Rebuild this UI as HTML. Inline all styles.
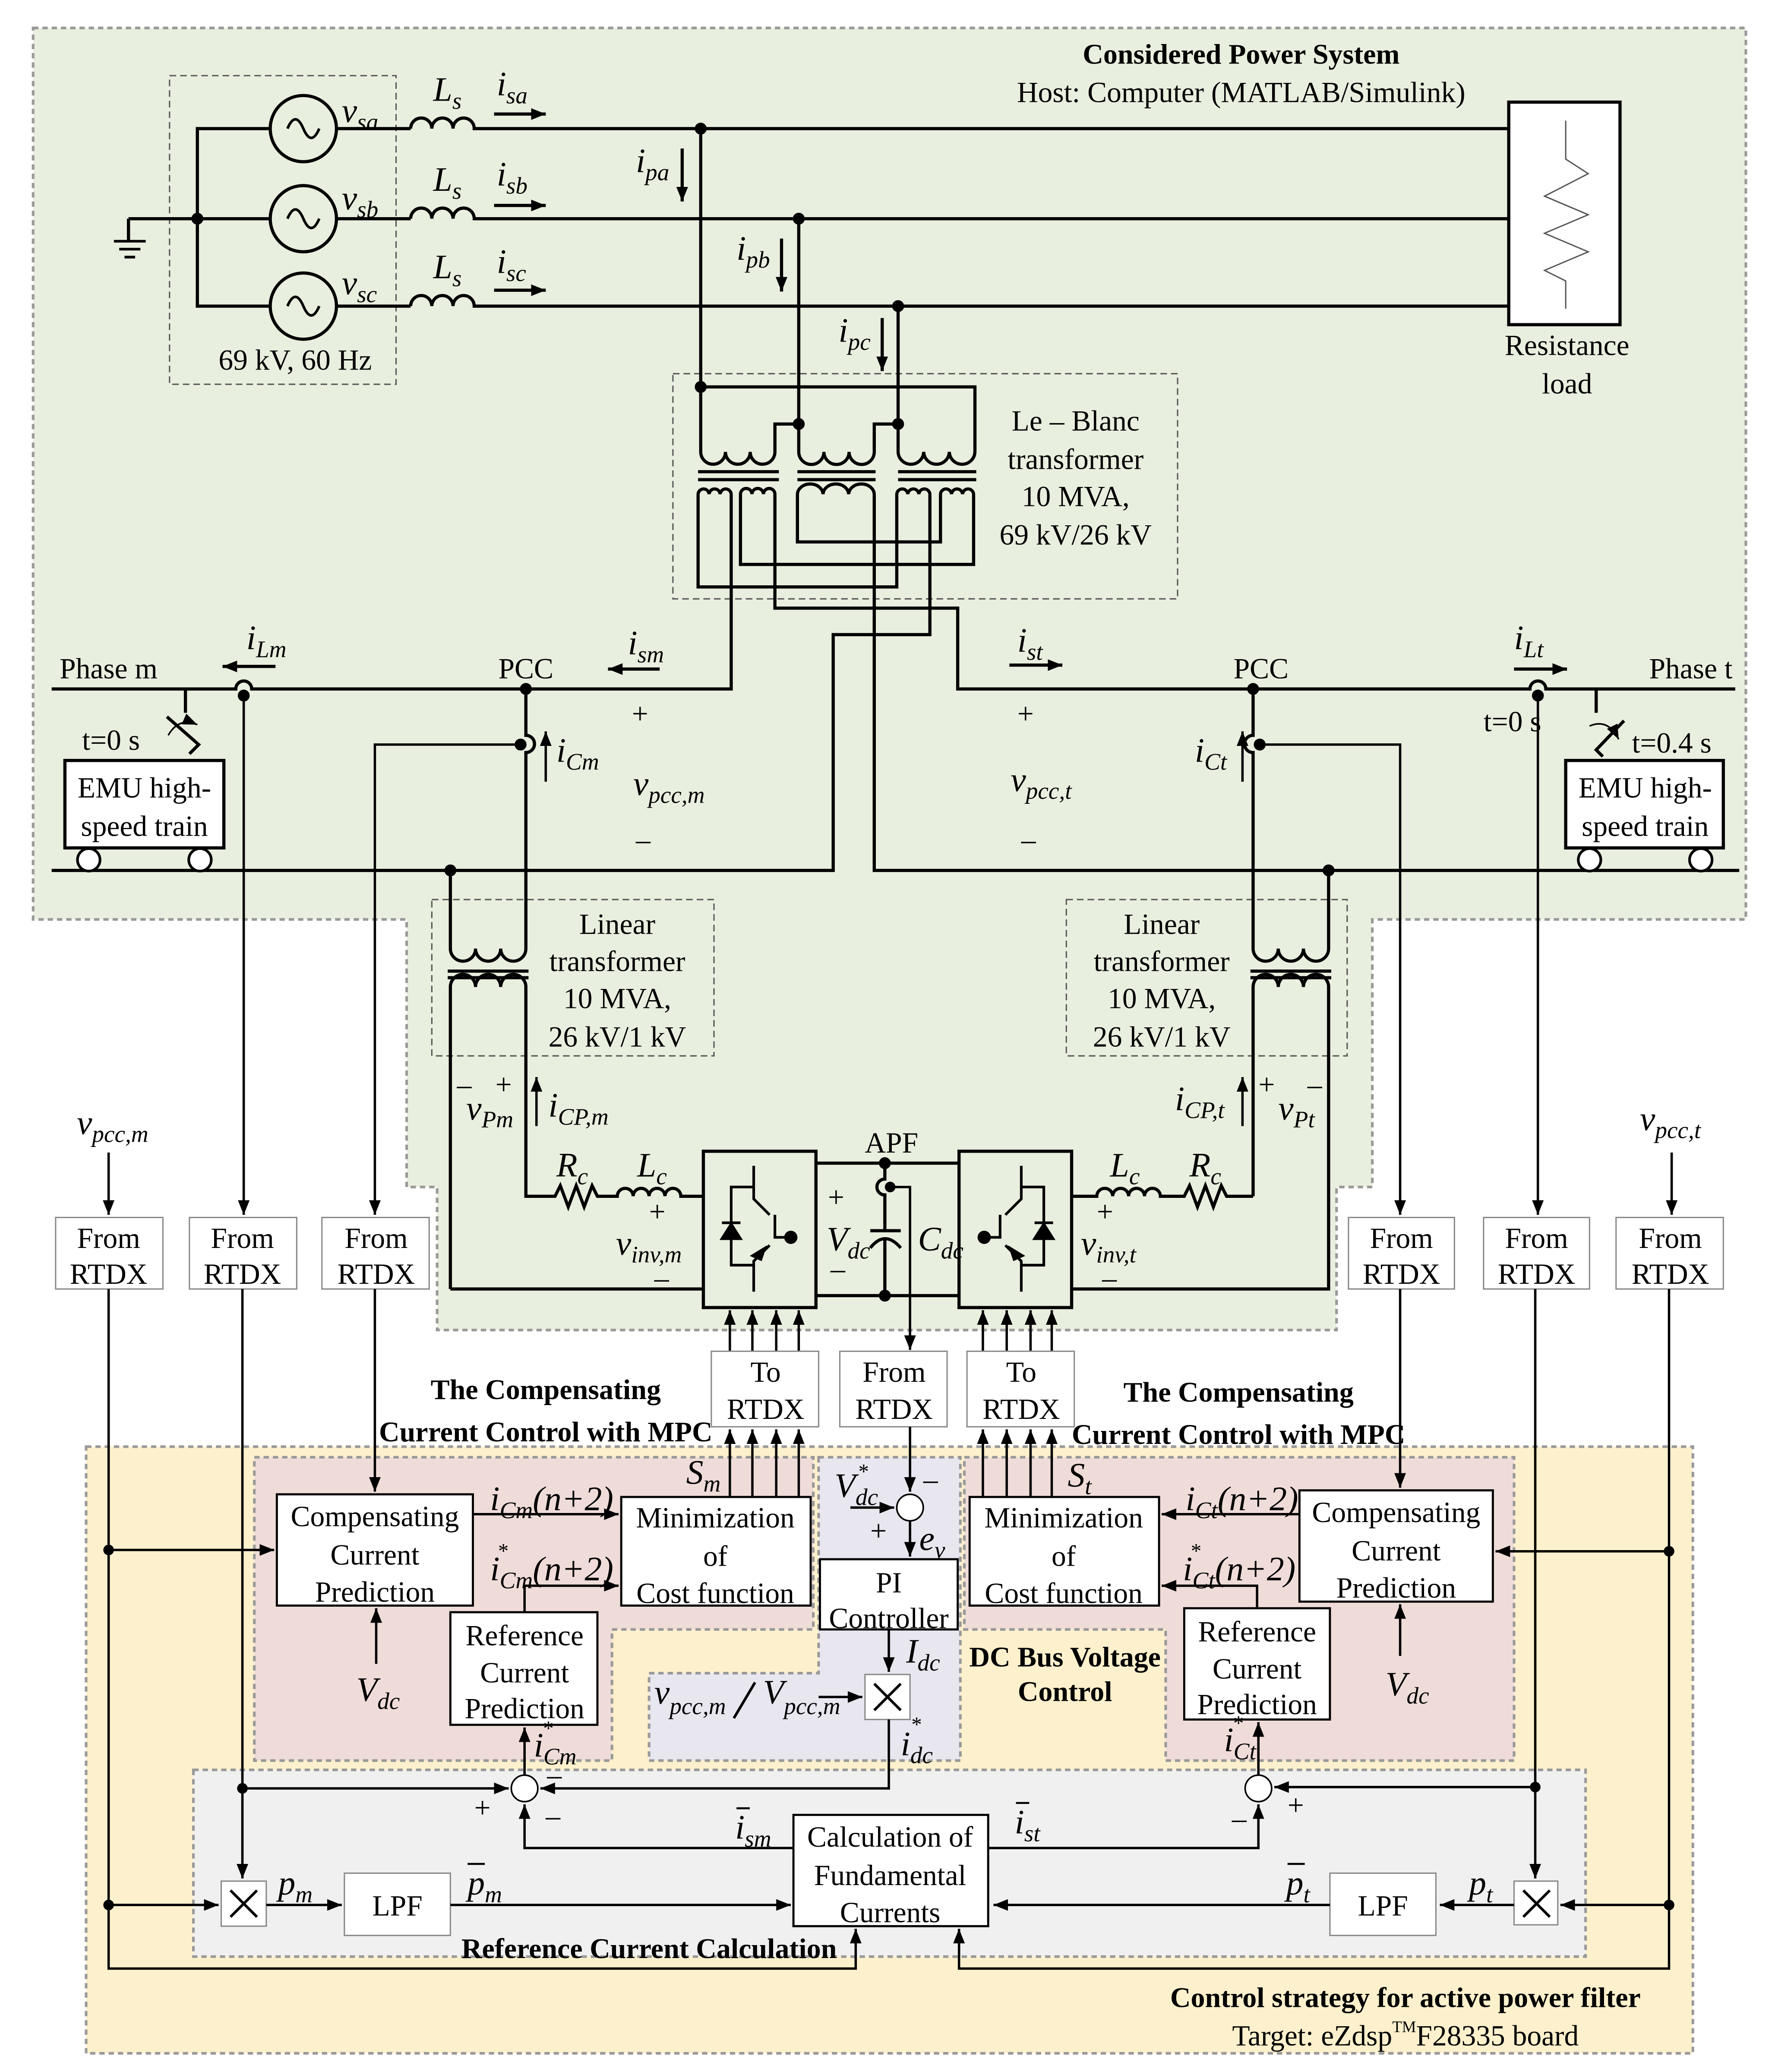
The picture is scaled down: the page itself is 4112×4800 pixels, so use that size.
<!DOCTYPE html>
<html><head><meta charset="utf-8"><style>
html,body{margin:0;padding:0;background:#fff}
svg{display:block}
text{font-family:"Liberation Serif",serif;fill:#000}
.m{font-style:italic;font-size:26px}
.s{font-size:18px}
.t{font-size:22px}
.b{font-size:21.5px;font-weight:bold}
.w{fill:none;stroke:#000;stroke-width:2.4}
.n{fill:none;stroke:#000;stroke-width:1.8}
.bx{fill:#fff;stroke:#000;stroke-width:1.6}
.gb{fill:#fff;stroke:#888;stroke-width:1}
</style></head><body>
<svg width="4112" height="4800" viewBox="0 0 1340 1564" xmlns="http://www.w3.org/2000/svg">
<defs><marker id="a" viewBox="0 0 10 10" refX="10" refY="5" markerWidth="11" markerHeight="11" markerUnits="userSpaceOnUse" orient="auto"><path d="M0,1 L10,5 L0,9z"/></marker></defs>
<rect width="1340" height="1564" fill="#fff"/>
<path d="M25,21 H1318 V694 H1036 V896 H1009 V1004 H330 V896 H307 V694 H25 Z" fill="#e9efdf" stroke="#999" stroke-width="2" stroke-dasharray="4,3"/>
<rect x="65" y="1092" width="1213" height="458" fill="#fdf0cc" stroke="#999" stroke-width="2" stroke-dasharray="4,3"/>
<path d="M192,1100 H614 V1230 H462 V1329 H192 Z" fill="#efdcd9" stroke="#999" stroke-width="2" stroke-dasharray="4,3"/>
<path d="M728,1100 H1143 V1329 H880 V1230 H728 Z" fill="#efdcd9" stroke="#999" stroke-width="2" stroke-dasharray="4,3"/>
<path d="M618,1100 H725 V1329 H490 V1263 H618 Z" fill="#e8e6ef" stroke="#999" stroke-width="2" stroke-dasharray="4,3"/>
<rect x="146" y="1336" width="1051" height="141" fill="#f0f0f0" stroke="#999" stroke-width="2" stroke-dasharray="4,3"/>
<g fill="none" stroke="#555" stroke-width="1" stroke-dasharray="5,3">
<rect x="128" y="57" width="171" height="233"/>
<rect x="508" y="282" width="381" height="170"/>
<rect x="326" y="679" width="213" height="118"/>
<rect x="805" y="679" width="212" height="118"/>
</g>
<text x="937" y="48" class="b" font-size="24" text-anchor="middle">Considered Power System</text>
<text x="937" y="77" class="t" font-size="24" text-anchor="middle">Host: Computer (MATLAB/Simulink)</text>
<g class="w">
<path d="M204,97 H149 V231 H204 M204,165 H97 M97,165 V182"/>
<circle cx="229" cy="97" r="25"/><circle cx="229" cy="165" r="25"/><circle cx="229" cy="231" r="25"/>
<path d="M254,97 H310 M254,165 H310 M254,231 H310"/>
<path d="M310,97 a8,8 0 0 1 16,0 a8,8 0 0 1 16,0 a8,8 0 0 1 16,0 H1139"/>
<path d="M310,165 a8,8 0 0 1 16,0 a8,8 0 0 1 16,0 a8,8 0 0 1 16,0 H1139"/>
<path d="M310,231 a8,8 0 0 1 16,0 a8,8 0 0 1 16,0 a8,8 0 0 1 16,0 H1139"/>
</g>
<g fill="none" stroke="#000" stroke-width="2">
<path d="M217,97 q6,-14 12,0 t12,0"/><path d="M217,165 q6,-14 12,0 t12,0"/><path d="M217,231 q6,-14 12,0 t12,0"/>
<path d="M86,182 H110 M90,188 H106 M94,194 H102"/>
</g>
<circle cx="149" cy="165" r="4.5"/>
<text x="258" y="92" class="m">v<tspan class="s" dy="6">sa</tspan></text>
<text x="258" y="158" class="m">v<tspan class="s" dy="6">sb</tspan></text>
<text x="258" y="222" class="m">v<tspan class="s" dy="6">sc</tspan></text>
<text x="327" y="76" class="m">L<tspan class="s" dy="6">s</tspan></text>
<text x="327" y="144" class="m">L<tspan class="s" dy="6">s</tspan></text>
<text x="327" y="210" class="m">L<tspan class="s" dy="6">s</tspan></text>
<text x="375" y="72" class="m">i<tspan class="s" dy="6">sa</tspan></text>
<text x="375" y="140" class="m">i<tspan class="s" dy="6">sb</tspan></text>
<text x="375" y="206" class="m">i<tspan class="s" dy="6">sc</tspan></text>
<g class="w" marker-end="url(#a)" stroke-width="2"><path d="M373,86 H412"/><path d="M373,155 H412"/><path d="M373,219 H412"/></g>
<text x="165" y="279" class="t">69 kV, 60 Hz</text>
<rect x="1139" y="77" width="84" height="168" fill="#fff" stroke="#000" stroke-width="2.4"/>
<path d="M1182,91 V120 L1199,131 L1166,148 L1199,162 L1166,176 L1199,190 L1166,204 L1182,212 V233" fill="none" stroke="#555" stroke-width="1"/>
<text x="1183" y="268" class="t" text-anchor="middle">Resistance</text>
<text x="1183" y="297" class="t" text-anchor="middle">load</text>
<g class="w">
<path d="M529,97 V292 H736 V320 M736,292 V341"/>
<path d="M603,165 V341 M678,231 V341"/>
<path d="M529,292 V341 a9.33,9.33 0 0 0 18.67,0 a9.33,9.33 0 0 0 18.67,0 a9.33,9.33 0 0 0 18.67,0 V320 H603"/>
<path d="M603,341 a9.5,9.5 0 0 0 19,0 a9.5,9.5 0 0 0 19,0 a9.5,9.5 0 0 0 19,0 V320 H678"/>
<path d="M678,341 a9.67,9.67 0 0 0 19.33,0 a9.67,9.67 0 0 0 19.33,0 a9.67,9.67 0 0 0 19.33,0"/>
</g>
<g stroke="#000" stroke-width="2.4"><path d="M527,356 H588 M527,362 H588 M602,356 H661 M602,362 H661 M678,356 H737 M678,362 H737"/></g>
<g class="w">
<path d="M527,373 a4.17,4.17 0 0 1 8.33,0 a4.17,4.17 0 0 1 8.33,0 a4.17,4.17 0 0 1 8.33,0"/>
<path d="M559,373 a4.33,4.33 0 0 1 8.67,0 a4.33,4.33 0 0 1 8.67,0 a4.33,4.33 0 0 1 8.67,0"/>
<path d="M602,373 a9.67,8 0 0 1 19.33,0 a9.67,8 0 0 1 19.33,0 a9.67,8 0 0 1 19.33,0"/>
<path d="M677,373 a4.17,4.17 0 0 1 8.33,0 a4.17,4.17 0 0 1 8.33,0 a4.17,4.17 0 0 1 8.33,0"/>
<path d="M710,373 a4.17,4.17 0 0 1 8.33,0 a4.17,4.17 0 0 1 8.33,0 a4.17,4.17 0 0 1 8.33,0"/>
<path d="M527,373 V443 H677 V373"/>
<path d="M552,373 V520 H190 a6,6 0 0 0 -12,0 H39"/>
<path d="M559,373 V426 H735 V373"/>
<path d="M585,373 V459 H723 V520 H1155 a6,6 0 0 1 12,0 H1310"/>
<path d="M602,373 V409 H710 V373"/>
<path d="M660,373 V657 H1313"/>
<path d="M702,373 V479 H629 V657 H39"/>
</g>
<g><circle cx="529" cy="97" r="4.5"/><circle cx="603" cy="165" r="4.5"/><circle cx="678" cy="231" r="4.5"/><circle cx="529" cy="292" r="4.5"/><circle cx="603" cy="320" r="4.5"/><circle cx="678" cy="320" r="4.5"/></g>
<g class="w" stroke-width="2" marker-end="url(#a)"><path d="M515,112 V152"/><path d="M590,180 V220"/><path d="M666,240 V280"/></g>
<text x="480" y="130" class="m">i<tspan class="s" dy="6">pa</tspan></text>
<text x="556" y="196" class="m">i<tspan class="s" dy="6">pb</tspan></text>
<text x="633" y="258" class="m">i<tspan class="s" dy="6">pc</tspan></text>
<g class="t" text-anchor="middle"><text x="812" y="325">Le – Blanc</text><text x="812" y="354">transformer</text><text x="812" y="382">10 MVA,</text><text x="812" y="411">69 kV/26 kV</text></g>
<text x="45" y="512" class="t">Phase m</text>
<text x="1245" y="512" class="t">Phase t</text>
<text x="397" y="512" class="t" text-anchor="middle">PCC</text>
<text x="952" y="512" class="t" text-anchor="middle">PCC</text>
<g class="w" stroke-width="2" marker-end="url(#a)"><path d="M208,503 H168"/><path d="M498,505 H459"/><path d="M762,502 H802"/><path d="M1143,505 H1183"/></g>
<text x="186" y="490" class="m">i<tspan class="s" dy="6">Lm</tspan></text>
<text x="474" y="494" class="m">i<tspan class="s" dy="6">sm</tspan></text>
<text x="768" y="492" class="m">i<tspan class="s" dy="6">st</tspan></text>
<text x="1143" y="490" class="m">i<tspan class="s" dy="6">Lt</tspan></text>
<g class="t"><text x="477" y="546">+</text><text x="480" y="641">–</text><text x="768" y="546">+</text><text x="771" y="641">–</text></g>
<text x="478" y="600" class="m">v<tspan class="s" dy="6">pcc,m</tspan></text>
<text x="763" y="597" class="m">v<tspan class="s" dy="6">pcc,t</tspan></text>
<g class="w" stroke-width="2"><path d="M140,520 V538 M126,541 L150,562 L143,569"/><path d="M1205,520 V538 M1226,544 L1205,566 L1210,571"/></g>
<path d="M127,555 q8,-14 22,-8" fill="none" stroke="#000" stroke-width="1.2" marker-end="url(#a)"/>
<path d="M1200,548 q14,-6 22,10" fill="none" stroke="#000" stroke-width="1.2" marker-end="url(#a)"/>
<text x="62" y="566" class="t">t=0 s</text>
<text x="1120" y="552" class="t">t=0 s</text>
<text x="1232" y="568" class="t">t=0.4 s</text>
<rect x="49" y="574" width="120" height="66" fill="#fff" stroke="#000" stroke-width="2.4"/>
<rect x="1182" y="574" width="119" height="66" fill="#fff" stroke="#000" stroke-width="2.4"/>
<g class="t" text-anchor="middle"><text x="109" y="602">EMU high-</text><text x="109" y="631">speed train</text><text x="1242" y="602">EMU high-</text><text x="1242" y="631">speed train</text></g>
<g fill="#fff" stroke="#000" stroke-width="2"><circle cx="67" cy="649" r="8.5"/><circle cx="151" cy="649" r="8.5"/><circle cx="1200" cy="649" r="8.5"/><circle cx="1284" cy="649" r="8.5"/></g>
<g class="w">
<path d="M397,520 V555 a6.5,6.5 0 0 1 0,13 V716 a9.5,9.5 0 0 1 -19,0 a9.5,9.5 0 0 1 -19,0 a9.5,9.5 0 0 1 -19,0 V657"/>
<path d="M338,733 H399 M338,738 H399"/>
<path d="M340,973 V745 a9.5,9.5 0 0 1 19,0 a9.5,9.5 0 0 1 19,0 a9.5,9.5 0 0 1 19,0 V903 H419 l4,-8 l6,16 l6,-16 l6,16 l6,-16 l4,8 H466 a6,6 0 0 1 12,0 a6,6 0 0 1 12,0 a6,6 0 0 1 12,0 a6,6 0 0 1 12,0 H531"/>
<path d="M340,973 H531"/>
<path d="M946,520 V555 a6.5,6.5 0 0 0 0,13 V716 a9.5,9.5 0 0 0 19,0 a9.5,9.5 0 0 0 19,0 a9.5,9.5 0 0 0 19,0 V657"/>
<path d="M944,733 H1005 M944,738 H1005"/>
<path d="M946,903 V745 a9.5,9.5 0 0 1 19,0 a9.5,9.5 0 0 1 19,0 a9.5,9.5 0 0 1 19,0 V973 H809"/>
<path d="M946,903 H926 l-4,-8 l-6,16 l-6,-16 l-6,16 l-6,-16 l-4,8 H876 a6,6 0 0 0 -12,0 a6,6 0 0 0 -12,0 a6,6 0 0 0 -12,0 a6,6 0 0 0 -12,0 H809"/>
</g>
<g><circle cx="184" cy="525" r="4.5"/><circle cx="397" cy="520" r="4.5"/><circle cx="393" cy="562" r="4.5"/><circle cx="340" cy="657" r="4.5"/><circle cx="946" cy="520" r="4.5"/><circle cx="951" cy="562" r="4.5"/><circle cx="1003" cy="657" r="4.5"/><circle cx="1161" cy="525" r="4.5"/></g>
<g class="n" marker-end="url(#a)">
<path d="M184,525 V917"/><path d="M393,562 H283 V917"/><path d="M951,562 H1057 V917"/><path d="M1161,525 V917"/>
<path d="M82,870 V917"/><path d="M1262,870 V917"/>
</g>
<g class="n" stroke-width="2" marker-end="url(#a)"><path d="M412,590 V552"/><path d="M938,590 V552"/><path d="M405,850 V813"/><path d="M938,850 V813"/></g>
<text x="420" y="575" class="m">i<tspan class="s" dy="6">Cm</tspan></text>
<text x="902" y="575" class="m">i<tspan class="s" dy="6">Ct</tspan></text>
<g class="t" text-anchor="middle"><text x="466" y="705">Linear</text><text x="466" y="733">transformer</text><text x="466" y="761">10 MVA,</text><text x="466" y="790">26 kV/1 kV</text>
<text x="877" y="705">Linear</text><text x="877" y="733">transformer</text><text x="877" y="761">10 MVA,</text><text x="877" y="790">26 kV/1 kV</text></g>
<text x="345" y="826" class="t">–</text><text x="374" y="826" class="t">+</text>
<text x="352" y="845" class="m">v<tspan class="s" dy="6">Pm</tspan></text>
<text x="414" y="843" class="m">i<tspan class="s" dy="6">CP,m</tspan></text>
<text x="887" y="838" class="m">i<tspan class="s" dy="6">CP,t</tspan></text>
<text x="950" y="826" class="t">+</text><text x="987" y="826" class="t">–</text>
<text x="965" y="845" class="m">v<tspan class="s" dy="6">Pt</tspan></text>
<text x="420" y="888" class="m">R<tspan class="s" dy="6">c</tspan></text>
<text x="481" y="888" class="m">L<tspan class="s" dy="6">c</tspan></text>
<text x="838" y="888" class="m">L<tspan class="s" dy="6">c</tspan></text>
<text x="898" y="888" class="m">R<tspan class="s" dy="6">c</tspan></text>
<text x="490" y="922" class="t">+</text><text x="494" y="972" class="t">–</text>
<text x="465" y="947" class="m">v<tspan class="s" dy="6">inv,m</tspan></text>
<text x="828" y="922" class="t">+</text><text x="832" y="972" class="t">–</text>
<text x="816" y="947" class="m">v<tspan class="s" dy="6">inv,t</tspan></text>
<g id="inv">
<rect x="531" y="869" width="85" height="118" fill="none" stroke="#000" stroke-width="2.4"/>
<g fill="none" stroke="#000" stroke-width="2"><path d="M569,880 V905 L581,917 M581,940 L569,952 V975 M585,917 V934 H597 M569,896 H552 V955 H569"/></g>
<path d="M579,940 L566,948 L575,952z"/>
<path d="M545,935 H559 L552,924z M545,923 H559" stroke="#000" stroke-width="2"/>
<circle cx="597" cy="934" r="5"/>
</g>
<use href="#inv" transform="translate(1340,0) scale(-1,1)"/>
<g class="w"><path d="M616,878 H724 M616,978 H724 M668,878 V890 a6,6 0 0 0 0,12 V929 M657,929 H680 M668,935 V978"/><path d="M657,942 Q668,928 680,942"/></g>
<circle cx="668" cy="878" r="4.5"/><circle cx="668" cy="978" r="4.5"/><circle cx="672" cy="896" r="4"/>
<path d="M672,896 H687 V1019" class="n" marker-end="url(#a)"/>
<text x="673" y="870" class="t" text-anchor="middle">APF</text>
<text x="625" y="911" class="t">+</text><text x="627" y="965" class="t">–</text>
<text x="624" y="944" class="m">V<tspan class="s" dy="6">dc</tspan></text>
<text x="693" y="944" class="m">C<tspan class="s" dy="6">dc</tspan></text>
<g class="n" marker-end="url(#a)">
<path d="M551,1020 V989"/><path d="M568,1020 V989"/><path d="M586,1020 V989"/><path d="M603,1020 V989"/>
<path d="M742,1020 V989"/><path d="M760,1020 V989"/><path d="M778,1020 V989"/><path d="M794,1020 V989"/>
<path d="M551,1130 V1079"/><path d="M568,1130 V1079"/><path d="M586,1130 V1079"/><path d="M603,1130 V1079"/>
<path d="M742,1130 V1079"/><path d="M760,1130 V1079"/><path d="M778,1130 V1079"/><path d="M794,1130 V1079"/>
</g>
<g class="gb">
<rect x="42" y="919" width="81" height="54"/><rect x="143" y="919" width="81" height="54"/><rect x="243" y="919" width="81" height="54"/>
<rect x="1018" y="919" width="80" height="54"/><rect x="1120" y="919" width="80" height="54"/><rect x="1220" y="919" width="81" height="54"/>
<rect x="537" y="1020" width="81" height="57"/><rect x="634" y="1020" width="81" height="57"/><rect x="730" y="1020" width="81" height="57"/>
</g>
<g class="t" text-anchor="middle">
<text x="82" y="942">From</text><text x="82" y="969">RTDX</text>
<text x="183" y="942">From</text><text x="183" y="969">RTDX</text>
<text x="284" y="942">From</text><text x="284" y="969">RTDX</text>
<text x="1058" y="942">From</text><text x="1058" y="969">RTDX</text>
<text x="1160" y="942">From</text><text x="1160" y="969">RTDX</text>
<text x="1261" y="942">From</text><text x="1261" y="969">RTDX</text>
<text x="578" y="1043">To</text><text x="578" y="1071">RTDX</text>
<text x="675" y="1043">From</text><text x="675" y="1071">RTDX</text>
<text x="771" y="1043">To</text><text x="771" y="1071">RTDX</text>
</g>
<text x="58" y="856" class="m">v<tspan class="s" dy="6">pcc,m</tspan></text>
<text x="1238" y="853" class="m">v<tspan class="s" dy="6">pcc,t</tspan></text>
<text x="412" y="1056" class="b" text-anchor="middle">The Compensating</text>
<text x="412" y="1088" class="b" text-anchor="middle">Current Control with MPC</text>
<text x="935" y="1058" class="b" text-anchor="middle">The Compensating</text>
<text x="935" y="1090" class="b" text-anchor="middle">Current Control with MPC</text>
<g class="bx">
<rect x="209" y="1128" width="148" height="84"/><rect x="469" y="1130" width="143" height="82"/><rect x="340" y="1217" width="111" height="85"/>
<rect x="619" y="1177" width="104" height="53"/>
<rect x="732" y="1130" width="143" height="82"/><rect x="981" y="1125" width="146" height="84"/><rect x="894" y="1214" width="110" height="84"/>
<rect x="599" y="1370" width="147" height="84"/>
</g>
<g class="gb"><rect x="653" y="1264" width="34" height="34"/><rect x="167" y="1420" width="34" height="34"/><rect x="1143" y="1420" width="33" height="33"/><rect x="260" y="1414" width="80" height="47"/><rect x="1004" y="1414" width="80" height="47"/></g>
<g fill="none" stroke="#000" stroke-width="2"><path d="M660,1271 L680,1291 M680,1271 L660,1291 M174,1427 L194,1447 M194,1427 L174,1447 M1150,1427 L1170,1447 M1170,1427 L1150,1447"/></g>
<g fill="#fff" stroke="#000" stroke-width="1.2"><circle cx="687" cy="1138" r="10"/><circle cx="396" cy="1350" r="10"/><circle cx="950" cy="1350" r="10"/></g>
<g class="t" text-anchor="middle">
<text x="283" y="1152">Compensating</text><text x="283" y="1181">Current</text><text x="283" y="1209">Prediction</text>
<text x="540" y="1153">Minimization</text><text x="540" y="1182">of</text><text x="540" y="1210">Cost function</text>
<text x="396" y="1242">Reference</text><text x="396" y="1270">Current</text><text x="396" y="1297">Prediction</text>
<text x="671" y="1202">PI</text><text x="671" y="1229">Controller</text>
<text x="803" y="1153">Minimization</text><text x="803" y="1182">of</text><text x="803" y="1210">Cost function</text>
<text x="1054" y="1149">Compensating</text><text x="1054" y="1178">Current</text><text x="1054" y="1206">Prediction</text>
<text x="949" y="1239">Reference</text><text x="949" y="1267">Current</text><text x="949" y="1294">Prediction</text>
<text x="672" y="1394">Calculation of</text><text x="672" y="1423">Fundamental</text><text x="672" y="1451">Currents</text>
<text x="300" y="1446">LPF</text><text x="1044" y="1446">LPF</text>
</g>
<text x="804" y="1258" class="b" font-size="22" text-anchor="middle">DC Bus Voltage</text>
<text x="804" y="1284" class="b" font-size="22" text-anchor="middle">Control</text>
<text x="490" y="1478" class="b" text-anchor="middle">Reference Current Calculation</text>
<text x="1061" y="1515" class="b" font-size="24" text-anchor="middle">Control strategy for active power filter</text>
<text x="1061" y="1544" class="t" text-anchor="middle">Target: eZdsp<tspan font-size="12" dy="-10">TM</tspan><tspan dy="10">F28335 board</tspan></text>
<g class="n">
<path d="M82,973 V1486 H646 V1456" marker-end="url(#a)"/>
<path d="M82,1170 H207" marker-end="url(#a)"/>
<path d="M82,1438 H165" marker-end="url(#a)"/>
<path d="M183,973 V1418" marker-end="url(#a)"/>
<path d="M183,1350 H384" marker-end="url(#a)"/>
<path d="M283,973 V1126" marker-end="url(#a)"/>
<path d="M357,1143 H467" marker-end="url(#a)"/>
<path d="M396,1217 V1197 H467" marker-end="url(#a)"/>
<path d="M284,1256 V1214" marker-end="url(#a)"/>
<path d="M396,1340 V1304" marker-end="url(#a)"/>
<path d="M599,1395 H396 V1362" marker-end="url(#a)"/>
<path d="M201,1438 H258" marker-end="url(#a)"/>
<path d="M340,1438 H597" marker-end="url(#a)"/>
<path d="M687,1077 V1126" marker-end="url(#a)"/>
<path d="M642,1138 H675" marker-end="url(#a)"/>
<path d="M687,1148 V1175" marker-end="url(#a)"/>
<path d="M671,1230 V1262" marker-end="url(#a)"/>
<path d="M618,1281 H651" marker-end="url(#a)"/>
<path d="M671,1298 V1350 H408" marker-end="url(#a)"/>
<path d="M1260,973 V1486 H724 V1456" marker-end="url(#a)"/>
<path d="M1260,1171 H1129" marker-end="url(#a)"/>
<path d="M1260,1438 H1178" marker-end="url(#a)"/>
<path d="M1159,973 V1418" marker-end="url(#a)"/>
<path d="M1159,1349 H962" marker-end="url(#a)"/>
<path d="M1057,973 V1123" marker-end="url(#a)"/>
<path d="M981,1143 H877" marker-end="url(#a)"/>
<path d="M949,1214 V1197 H877" marker-end="url(#a)"/>
<path d="M1057,1250 V1211" marker-end="url(#a)"/>
<path d="M950,1340 V1300" marker-end="url(#a)"/>
<path d="M746,1395 H950 V1362" marker-end="url(#a)"/>
<path d="M1143,1438 H1087" marker-end="url(#a)"/>
<path d="M1004,1438 H750" marker-end="url(#a)"/>
</g>
<g><circle cx="82" cy="1170" r="4"/><circle cx="82" cy="1438" r="4"/><circle cx="183" cy="1350" r="4"/><circle cx="1260" cy="1171" r="4"/><circle cx="1260" cy="1438" r="4"/><circle cx="1159" cy="1349" r="4"/></g>
<text x="370" y="1140" class="m" font-size="24">i<tspan class="s" dy="6">Cm</tspan><tspan dy="-6">(n+2)</tspan></text>
<text x="370" y="1193" class="m" font-size="24">i<tspan class="s" dy="6">Cm</tspan><tspan dy="-6">(n+2)</tspan></text>
<text x="376" y="1176" font-size="16">*</text>
<text x="518" y="1120" class="m">S<tspan class="s" dy="6">m</tspan></text>
<text x="806" y="1122" class="m">S<tspan class="s" dy="6">t</tspan></text>
<text x="895" y="1140" class="m" font-size="24">i<tspan class="s" dy="6">Ct</tspan><tspan dy="-6">(n+2)</tspan></text>
<text x="893" y="1193" class="m" font-size="24">i<tspan class="s" dy="6">Ct</tspan><tspan dy="-6">(n+2)</tspan></text>
<text x="899" y="1176" font-size="16">*</text>
<text x="630" y="1130" class="m">V<tspan class="s" dy="6">dc</tspan></text><text x="648" y="1116" font-size="16">*</text>
<text x="697" y="1124" class="t">–</text><text x="657" y="1163" class="t">+</text>
<text x="694" y="1170" class="m">e<tspan class="s" dy="6">v</tspan></text>
<text x="684" y="1255" class="m">I<tspan class="s" dy="6">dc</tspan></text>
<text x="494" y="1286" class="m">v<tspan class="s" dy="8">pcc,m</tspan></text>
<path d="M554,1297 L570,1270" stroke="#000" stroke-width="2"/>
<text x="576" y="1286" class="m">V<tspan class="s" dy="8">pcc,m</tspan></text>
<text x="680" y="1325" class="m">i<tspan class="s" dy="6">dc</tspan></text><text x="688" y="1307" font-size="16">*</text>
<text x="403" y="1326" class="m">i<tspan class="s" dy="6">Cm</tspan></text><text x="410" y="1310" font-size="16">*</text>
<text x="924" y="1322" class="m">i<tspan class="s" dy="6">Ct</tspan></text><text x="931" y="1306" font-size="16">*</text>
<text x="358" y="1372" class="t">+</text><text x="412" y="1378" class="t">–</text><text x="413" y="1347" class="t">–</text>
<text x="972" y="1370" class="t">+</text><text x="930" y="1380" class="t">–</text>
<text x="555" y="1388" class="m">i<tspan class="s" dy="6">sm</tspan></text><path d="M556,1365 H566" stroke="#000" stroke-width="1.5"/>
<text x="766" y="1384" class="m">i<tspan class="s" dy="6">st</tspan></text><path d="M767,1361 H777" stroke="#000" stroke-width="1.5"/>
<text x="210" y="1430" class="m">p<tspan class="s" dy="6">m</tspan></text>
<text x="353" y="1430" class="m">p<tspan class="s" dy="6">m</tspan></text><path d="M353,1407 H366" stroke="#000" stroke-width="1.5"/>
<text x="1109" y="1430" class="m">p<tspan class="s" dy="6">t</tspan></text>
<text x="971" y="1430" class="m">p<tspan class="s" dy="6">t</tspan></text><path d="M972,1407 H985" stroke="#000" stroke-width="1.5"/>
<text x="269" y="1284" class="m">V<tspan class="s" dy="6">dc</tspan></text>
<text x="1046" y="1280" class="m">V<tspan class="s" dy="6">dc</tspan></text>
</svg>
</body></html>
